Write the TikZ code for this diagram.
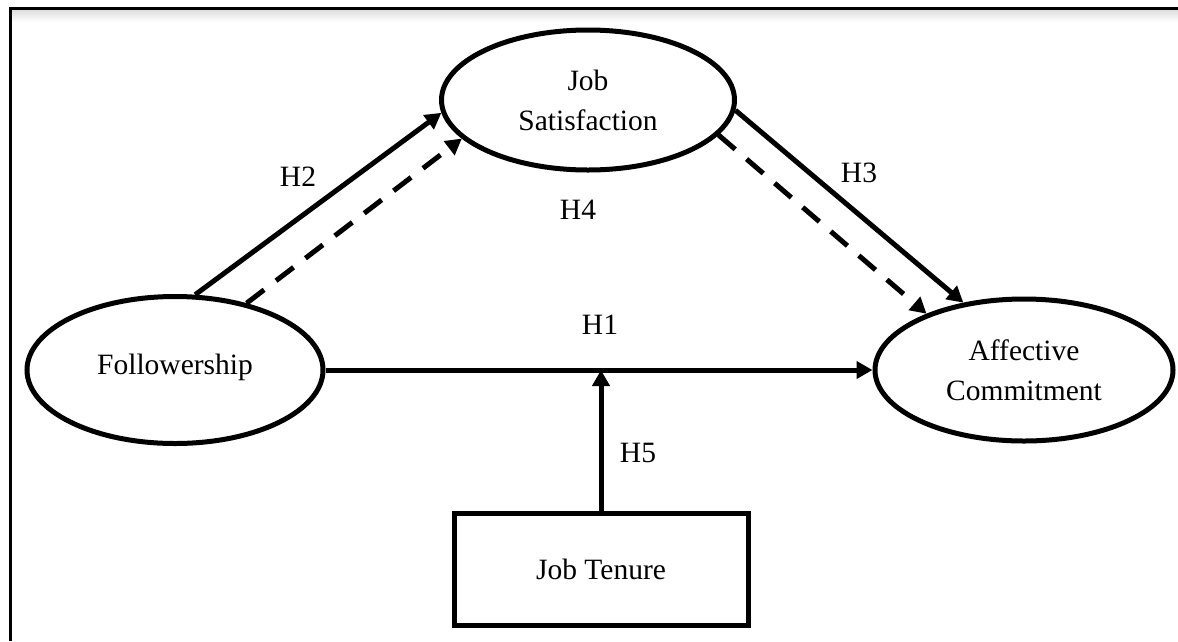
\documentclass[tikz,border=0pt]{standalone}
\usepackage{fontspec}
\setmainfont{Liberation Serif}
\usetikzlibrary{shapes.geometric,arrows.meta}
\begin{document}
\begin{tikzpicture}[x=1pt,y=-1pt,
  every node/.style={font=\fontsize{29.5}{40}\selectfont},
  construct/.style={ellipse,draw,line width=5pt,inner sep=0pt,align=center},
  boxnode/.style={rectangle,draw,line width=5pt,inner sep=0pt,align=center},
  link/.style={line width=5pt,-{Triangle[length=16pt,width=17pt]}},
  dlink/.style={link,dash pattern=on 22pt off 15pt},
  hyp/.style={inner sep=0pt},
  frameline/.style={line width=3pt}
]
\useasboundingbox (0,0) rectangle (1178,641);
\fill[white] (0,0) rectangle (1178,641);
% frame with soft inner shadow
\shade[top color=black!14,bottom color=white] (11,9) rectangle (1178,22);
\draw[frameline] (10,641) -- (10,8) -- (1178,8);

% constructs
\node[construct,minimum width=293pt,minimum height=140pt] (js) at (588,100) {Job\\Satisfaction};
\node[construct,minimum width=296pt,minimum height=147pt] (fol) at (175,370) {\raisebox{12pt}{Followership}};
\node[construct,minimum width=298pt,minimum height=142pt] (ac) at (1024,370) {Affective\\Commitment};
\node[boxnode,minimum width=294pt,minimum height=112pt] (jt) at (601,569) {Job Tenure};

% connectors
\draw[link] (fol.75) -- (js.185);
\draw[dlink] (fol.43) -- (js.197.5);
\draw[link] (js.356) -- (ac.132);
\draw[dlink] (js.-15.8) -- (ac.150.8);
\draw[link] (fol.east) -- (ac.west);
\coordinate (mod) at (jt.north |- fol.east);
\draw[link] (jt.north) -- (mod);

% labels
\node[hyp] (h1) at (600,325) {H1};
\node[hyp] (h2) at (298,177) {H2};
\node[hyp] (h3) at (859,173) {H3};
\node[hyp] (h4) at (578,210) {H4};
\node[hyp] (h5) at (638,453) {H5};
\end{tikzpicture}
\end{document}
